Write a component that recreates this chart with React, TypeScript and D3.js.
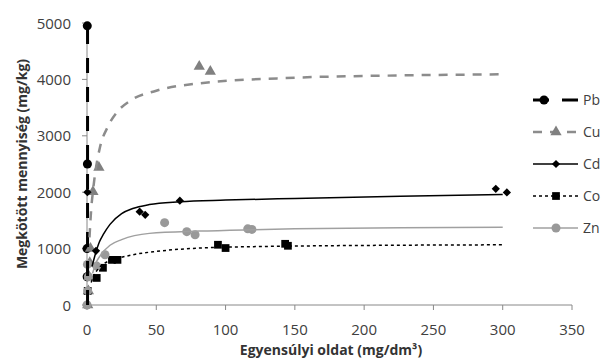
import * as d3 from 'd3';
import React, { useEffect, useRef } from 'react';

// measured points [C (mg/dm3), q (mg/kg)]
const pbPoints = [[0.2, 4950], [0.3, 2500], [0, 1000], [0.1, 500]];
const cuPoints = [[4.3, 2010], [8.6, 2440], [81, 4230], [89, 4140], [0.5, 0], [1, 250], [1.5, 500], [2, 750], [2.5, 1000]];
const cdPoints = [[0.3, 2000], [6.5, 960], [38, 1655], [42, 1600], [67, 1850], [295, 2060], [303, 1995]];
const coPoints = [[0.5, 250], [7, 480], [11.5, 660], [18, 800], [22, 800], [94.5, 1068], [100, 1010], [143, 1085], [145, 1050]];
const znPoints = [[0, 0], [0.5, 250], [1, 500], [0.3, 720], [7, 690], [13, 890], [56, 1460], [72, 1300], [78, 1245], [116, 1350], [119, 1340]];

// fitted curves
const pbCurve = [[0.4, 0], [0.4, 5000]];
const cuCurve = [[1.8, 1200], [2.5, 1500], [3.2, 1750], [4, 1950], [5.8, 2320], [9.4, 2800], [15, 3160], [22, 3430], [31, 3620], [50, 3800], [81, 3930], [150, 4030], [225, 4070], [300, 4090]];
const cdCurve = [[3.6, 680], [6, 900], [9, 1120], [12, 1260], [16.6, 1430], [25, 1620], [33, 1710], [45, 1780], [67, 1830], [100, 1860], [150, 1890], [226, 1930], [300, 1960]];
const coCurve = [[3, 400], [5, 520], [8, 640], [12, 730], [18, 800], [24, 840], [35, 900], [50, 950], [81, 1010], [120, 1035], [150, 1045], [225, 1060], [300, 1067]];
const znCurve = [[4, 560], [6, 720], [10, 890], [16.6, 1060], [25, 1160], [45, 1270], [81, 1310], [120, 1335], [150, 1350], [226, 1370], [300, 1378]];

const xTicks = [0, 50, 100, 150, 200, 250, 300, 350];
const yTicks = [0, 1000, 2000, 3000, 4000, 5000];

const series = [
    { name: 'Pb', points: pbPoints, curve: pbCurve, color: '#000', marker: 'circle', mcolor: '#000', width: 3, dash: '15,14' },
    { name: 'Cu', points: cuPoints, curve: cuCurve, color: '#8c8c8c', marker: 'triangle', mcolor: '#808080', width: 2.5, dash: '9,8' },
    { name: 'Cd', points: cdPoints, curve: cdCurve, color: '#000', marker: 'diamond', mcolor: '#000', width: 1.5, dash: null },
    { name: 'Co', points: coPoints, curve: coCurve, color: '#000', marker: 'square', mcolor: '#000', width: 1.5, dash: '3,3' },
    { name: 'Zn', points: znPoints, curve: znCurve, color: '#a0a0a0', marker: 'circle', mcolor: '#999', width: 1.5, dash: null },
];

const symbols: any = {
    circle: d3.symbol().type(d3.symbolCircle).size(64),
    triangle: d3.symbol().type(d3.symbolTriangle).size(55),
    diamond: d3.symbol().type(d3.symbolSquare).size(34),
    square: d3.symbol().type(d3.symbolSquare).size(60),
};

const App = () => {
    const ref = useRef(null);
    const W = 603, H = 360;

    useEffect(() => {
        const svg = d3.select(ref.current);
        svg.selectAll('*').remove();

        const x = d3.scaleLinear().domain([0, 350]).range([87, 572]);
        const y = d3.scaleLinear().domain([0, 5000]).range([305, 23]);
        const font = "'Open Sans', sans-serif";

        // axes
        svg.append('line').attr('x1', x(0)).attr('x2', x(350)).attr('y1', y(0)).attr('y2', y(0)).attr('stroke', '#888');
        svg.append('line').attr('x1', x(0)).attr('x2', x(0)).attr('y1', y(0)).attr('y2', y(5000)).attr('stroke', '#888');

        svg.selectAll('.xt').data(xTicks).enter().append('line')
            .attr('x1', d => x(d)).attr('x2', d => x(d)).attr('y1', y(0)).attr('y2', y(0) + 5).attr('stroke', '#888');
        svg.selectAll('.xl').data(xTicks).enter().append('text')
            .attr('x', d => x(d)).attr('y', 335).attr('text-anchor', 'middle')
            .attr('font-family', font).attr('font-size', 15).attr('fill', '#404040').text(d => d);

        svg.selectAll('.yt').data(yTicks).enter().append('line')
            .attr('x1', x(0) - 5).attr('x2', x(0)).attr('y1', d => y(d)).attr('y2', d => y(d)).attr('stroke', '#888');
        svg.selectAll('.yl').data(yTicks).enter().append('text')
            .attr('x', 71).attr('y', d => y(d) + 5.5).attr('text-anchor', 'end')
            .attr('font-family', font).attr('font-size', 15).attr('fill', '#404040').text(d => d);

        svg.append('text').attr('x', 331).attr('y', 355).attr('text-anchor', 'middle')
            .attr('font-family', font).attr('font-size', 14).attr('font-weight', 'bold').attr('fill', '#333')
            .text('Egyensúlyi oldat (mg/dm³)');
        svg.append('text').attr('transform', 'translate(27,164) rotate(-90)').attr('text-anchor', 'middle')
            .attr('font-family', font).attr('font-size', 14).attr('font-weight', 'bold').attr('fill', '#333')
            .text('Megkötött mennyiség (mg/kg)');

        const smooth = d3.line().x((d: any) => x(d[0])).y((d: any) => y(d[1])).curve(d3.curveMonotoneX);
        const straight = d3.line().x((d: any) => x(d[0])).y((d: any) => y(d[1]));

        // markers
        series.forEach(s => {
            svg.append('g').selectAll('path').data(s.points).enter().append('path')
                .attr('d', symbols[s.marker])
                .attr('transform', (d: any) => `translate(${x(d[0])},${y(d[1])})${s.marker === 'diamond' ? ' rotate(45)' : ''}`)
                .attr('fill', s.mcolor);
        });
        // fitted curves
        series.forEach(s => {
            svg.append('path')
                .attr('d', s.name === 'Pb' ? straight(s.curve as any) : smooth(s.curve as any))
                .attr('fill', 'none').attr('stroke', s.color).attr('stroke-width', s.width)
                .attr('stroke-dasharray', s.dash);
        });

        // legend
        const lg = svg.append('g');
        series.forEach((s, i) => {
            const ly = 100 + i * 32;
            lg.append('line').attr('x1', 533).attr('x2', 578).attr('y1', ly).attr('y2', ly)
                .attr('stroke', s.color).attr('stroke-width', s.width)
                .attr('stroke-dasharray', s.name === 'Pb' ? '16,13' : s.dash);
            lg.append('path').attr('d', symbols[s.marker])
                .attr('transform', `translate(${s.name === 'Pb' ? 544 : 556},${ly})${s.marker === 'diamond' ? ' rotate(45)' : ''}`)
                .attr('fill', s.mcolor);
            lg.append('text').attr('x', 583).attr('y', ly + 5).attr('font-family', font).attr('font-size', 14)
                .attr('fill', '#404040').text(s.name);
        });
    }, []);

    return (
        <div>
            <svg ref={ref} width={W} height={H} style={{ position: 'absolute', left: 0, top: 0, background: '#fff' }}></svg>
        </div>
    );
};

export default App;
